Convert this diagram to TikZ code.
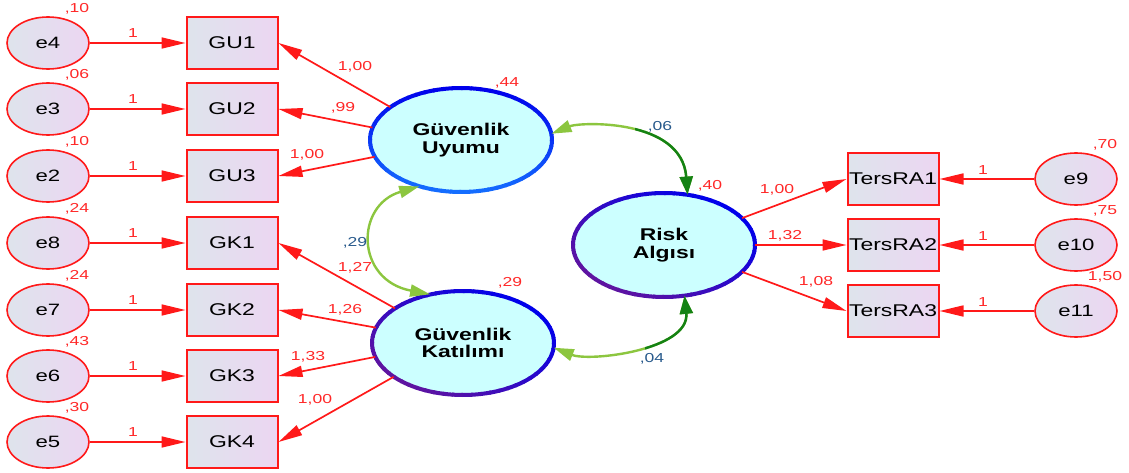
\documentclass[tikz,border=0pt]{standalone}
\usepackage{fontspec}
\setmainfont{Liberation Sans}[FakeStretch=1.35]
\usetikzlibrary{arrows.meta,shapes.geometric}
\definecolor{rd}{RGB}{255,25,25}
\definecolor{lblred}{RGB}{255,40,40}
\definecolor{lblblue}{RGB}{40,90,140}
\definecolor{boxA}{RGB}{222,228,236}
\definecolor{boxB}{RGB}{236,214,242}
\definecolor{lcyan}{RGB}{204,255,255}
\definecolor{bl}{RGB}{0,0,235}
\definecolor{lbl2}{RGB}{20,110,255}
\definecolor{purp}{RGB}{95,20,160}
\definecolor{lg}{RGB}{140,198,63}
\definecolor{dg}{RGB}{20,130,20}
\begin{document}
\begin{tikzpicture}[x=1pt,y=-1pt,
  err/.style={ellipse, draw=rd, line width=1.6pt, minimum width=82pt, minimum height=52pt,
    inner sep=0pt, left color=boxA, right color=boxB, font=\fontsize{16.4}{17}\selectfont},
  obs/.style={rectangle, draw=rd, line width=2pt, minimum width=91pt, minimum height=52pt,
    inner sep=0pt, left color=boxA, right color=boxB, font=\fontsize{17}{18}\selectfont},
  lat/.style={ellipse, fill=lcyan, minimum width=182pt, minimum height=104pt, inner sep=0pt,
    align=center, font=\bfseries\fontsize{17}{17.5}\selectfont},
  ar/.style={draw=rd, line width=1.7pt, -{Triangle[length=24pt,width=11pt]}},
  cv/.style={line width=2.4pt},
  lbl/.style={text=lblred, font=\fontsize{13}{14}\selectfont, inner sep=0pt},
  cvl/.style={text=lblblue, font=\fontsize{13}{14}\selectfont, inner sep=0pt}
]
\fill[white] (0,0) rectangle (1129,473);
\useasboundingbox (0,0) rectangle (1129,473);

% error terms and indicators (left)
\foreach \e/\b/\t/\y/\v in {e4/gu1/GU1/43/{,10}, e3/gu2/GU2/109/{,06}, e2/gu3/GU3/176/{,10},
    e8/gk1/GK1/243/{,24}, e7/gk2/GK2/310/{,24}, e6/gk3/GK3/376/{,43}, e5/gk4/GK4/442/{,30}}{
  \node[err] (\e) at (48,\y) {\e};
  \node[obs] (\b) at (232,\y) {\t};
  \draw[ar] (\e) -- (\b);
  \node[lbl] (one\e) at (133,\y-10) {1};
  \node[lbl] (var\e) at (77,\y-34) {\v};
}

% right side
\foreach \e/\b/\t/\y/\v in {e9/tr1/TersRA1/179/{,70}, e10/tr2/TersRA2/245/{,75}, e11/tr3/TersRA3/311/{1,50}}{
  \node[err] (\e) at (1076,\y) {\e};
  \node[obs] (\b) at (893,\y) {\t};
  \draw[ar] (\e) -- (\b);
  \node[lbl] (one\e) at (983,\y-9) {1};
  \node[lbl] (var\e) at (1105,\y-34) {\v};
}

% latent variables
\node[lat] (uy) at (461,140) {Güvenlik\\Uyumu};
\node[lat] (kat) at (463,343) {Güvenlik\\Katılımı};
\node[lat] (rk) at (664,245) {Risk\\Algısı};

\foreach \a in {0,6,...,354}{
  \pgfmathtruncatemacro\p{(1+sin(\a))*50}
  \draw[line width=4pt, color=lbl2!\p!bl] (uy.center) ++(\a:91 and 52) arc[start angle=\a, end angle=\a+7, x radius=91, y radius=52];
  \pgfmathtruncatemacro\q{(1+cos(\a-135))*50}
  \draw[line width=4pt, color=purp!\q!bl] (kat.center) ++(\a:91 and 52) arc[start angle=\a, end angle=\a+7, x radius=91, y radius=52];
  \draw[line width=4pt, color=purp!\q!bl] (rk.center) ++(\a:91 and 52) arc[start angle=\a, end angle=\a+7, x radius=91, y radius=52];
}

% loadings
\draw[ar] (uy.155) -- (gu1.east);
\draw[ar] (uy.172) -- (gu2.east);
\draw[ar] (uy.191) -- (gu3.east);
\draw[ar] (kat.153) -- (gk1.east);
\draw[ar] (kat.170) -- (gk2.east);
\draw[ar] (kat.189) -- (gk3.east);
\draw[ar] (kat.206) -- (gk4.east);
\draw[ar] (rk.19) -- (tr1.west);
\draw[ar] (rk.east) -- (tr2.west);
\draw[ar] (rk.-19) -- (tr3.west);

\node[lbl] (l1) at (355,67) {1,00};
\node[lbl] (l2) at (343,108) {,99};
\node[lbl] (l3) at (307,155) {1,00};
\node[lbl] (l4) at (355,268) {1,27};
\node[lbl] (l5) at (345,310) {1,26};
\node[lbl] (l6) at (308,357) {1,33};
\node[lbl] (l7) at (315,400) {1,00};
\node[lbl] (l8) at (777,190) {1,00};
\node[lbl] (l9) at (785,236) {1,32};
\node[lbl] (l10) at (816,282) {1,08};

\node[lbl] (v1) at (507,83) {,44};
\node[lbl] (v2) at (710,186) {,40};
\node[lbl] (v3) at (510,283) {,29};

% covariances
\draw[cv, lg, {Triangle[length=20pt,width=12pt]}-{Triangle[length=18pt,width=13pt]}] (uy.4) .. controls (580,122) and (682,118) .. (rk.65);
\begin{scope}
  \clip (635,0) rectangle (760,240);
  \draw[cv, dg, {Triangle[length=20pt,width=12pt]}-{Triangle[length=18pt,width=13pt]}] (uy.4) .. controls (580,122) and (682,118) .. (rk.65);
\end{scope}
\draw[cv, lg, {Triangle[length=20pt,width=12pt]}-{Triangle[length=20pt,width=12pt]}] (uy.228) .. controls (355,205) and (355,280) .. (kat.124);
\draw[cv, lg, {Triangle[length=20pt,width=12pt]}-{Triangle[length=18pt,width=13pt]}] (kat.-3) .. controls (590,362) and (690,350) .. (rk.292);
\begin{scope}
  \clip (645,250) rectangle (760,400);
  \draw[cv, dg, {Triangle[length=20pt,width=12pt]}-{Triangle[length=18pt,width=13pt]}] (kat.-3) .. controls (590,362) and (690,350) .. (rk.292);
\end{scope}

\node[cvl] (c1) at (660,127) {,06};
\node[cvl] (c2) at (355,243) {,29};
\node[cvl] (c3) at (652,359) {,04};
\end{tikzpicture}
\end{document}
